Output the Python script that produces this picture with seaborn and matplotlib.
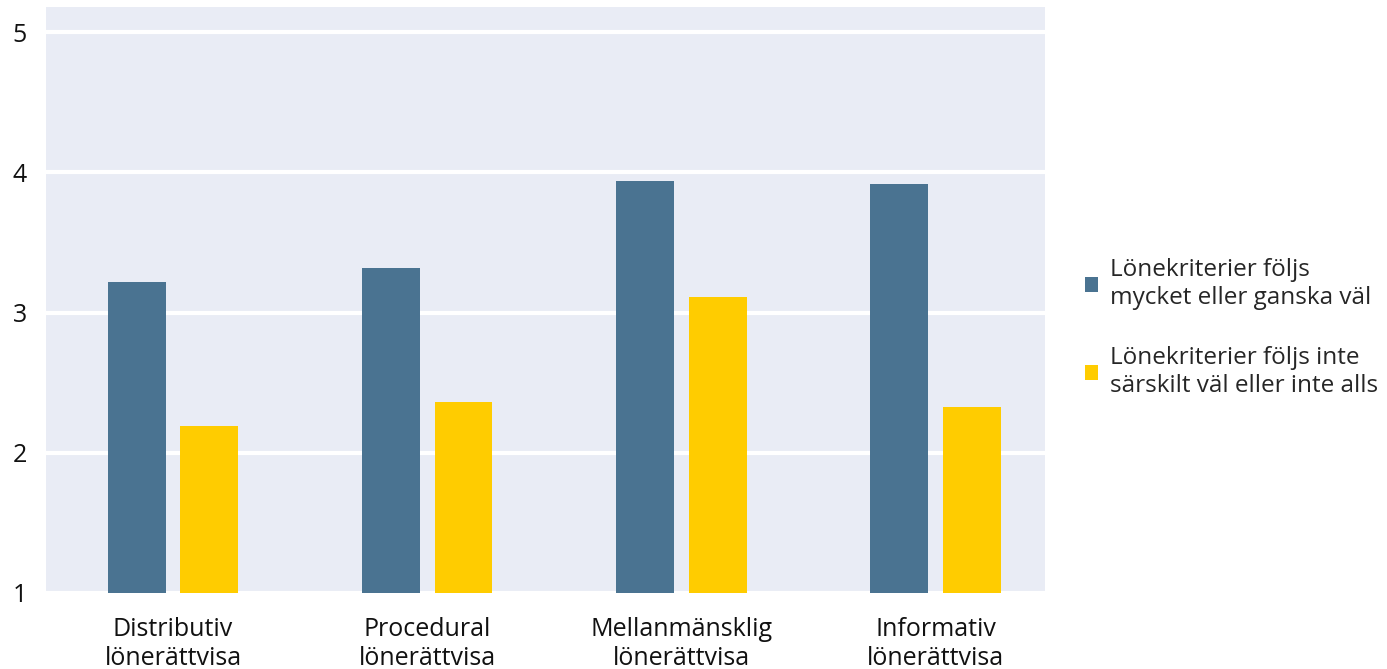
import matplotlib
matplotlib.use("Agg")
import matplotlib.pyplot as plt
import seaborn as sns
import pandas as pd
from matplotlib.patches import Patch

categories = ["Distributiv\nlönerättvisa", "Procedural\nlönerättvisa",
              "Mellanmänsklig\nlönerättvisa", "Informativ\nlönerättvisa"]
series_names = ["Lönekriterier följs\nmycket eller ganska väl",
                "Lönekriterier följs inte\nsärskilt väl eller inte alls"]
values_good = [3.22, 3.32, 3.94, 3.92]
values_bad = [2.19, 2.36, 3.11, 2.33]
colors = ["#4a7391", "#ffcc00"]

df = pd.DataFrame({
    "cat": categories * 2,
    "series": [series_names[0]] * 4 + [series_names[1]] * 4,
    "val": values_good + values_bad,
})

sns.set_theme(style="darkgrid")
plt.rcParams["font.family"] = ["Open Sans", "DejaVu Sans"]

fig = plt.figure(figsize=(13.87, 6.69), dpi=100)
ax = fig.add_axes([46/1387, 1 - 593/669, (1045-46)/1387, (593-7)/669])
ax.set_facecolor("#e9ecf5")

sns.barplot(data=df, x="cat", y="val", hue="series", palette=colors,
            saturation=1, width=0.57, gap=0.2, ax=ax, legend=False,
            linewidth=0, edgecolor="none")

# bars start at 1
for p in ax.patches:
    h = p.get_height()
    p.set_y(1)
    p.set_height(h - 1)

ax.set_ylim(1, 5.18)
ax.set_xlim(-0.5, 3.43)
ax.set_yticks([1, 2, 3, 4, 5])
ax.grid(axis="y", color="white", linewidth=3)
ax.grid(axis="x", visible=False)
ax.set_axisbelow(True)
for s in ax.spines.values():
    s.set_visible(False)
ax.set_xlabel("")
ax.set_ylabel("")
ax.tick_params(axis="both", length=0, labelsize=18, colors="#111111")
ax.tick_params(axis="x", pad=17)
ax.yaxis.set_tick_params(pad=24)
for lbl in ax.get_yticklabels():
    lbl.set_horizontalalignment("left")
for lbl in ax.get_xticklabels():
    lbl.set_linespacing(1.25)

handles = [Patch(facecolor=c, edgecolor="none") for c in colors]
fig.legend(handles, series_names, loc="center left",
           bbox_to_anchor=(1075/1387, 1 - 328/669), frameon=False,
           fontsize=17.5, handlelength=0.55, handleheight=0.55,
           labelspacing=1.5, handletextpad=0.5, borderaxespad=0)

fig.savefig("out.png", dpi=100, facecolor="white")
